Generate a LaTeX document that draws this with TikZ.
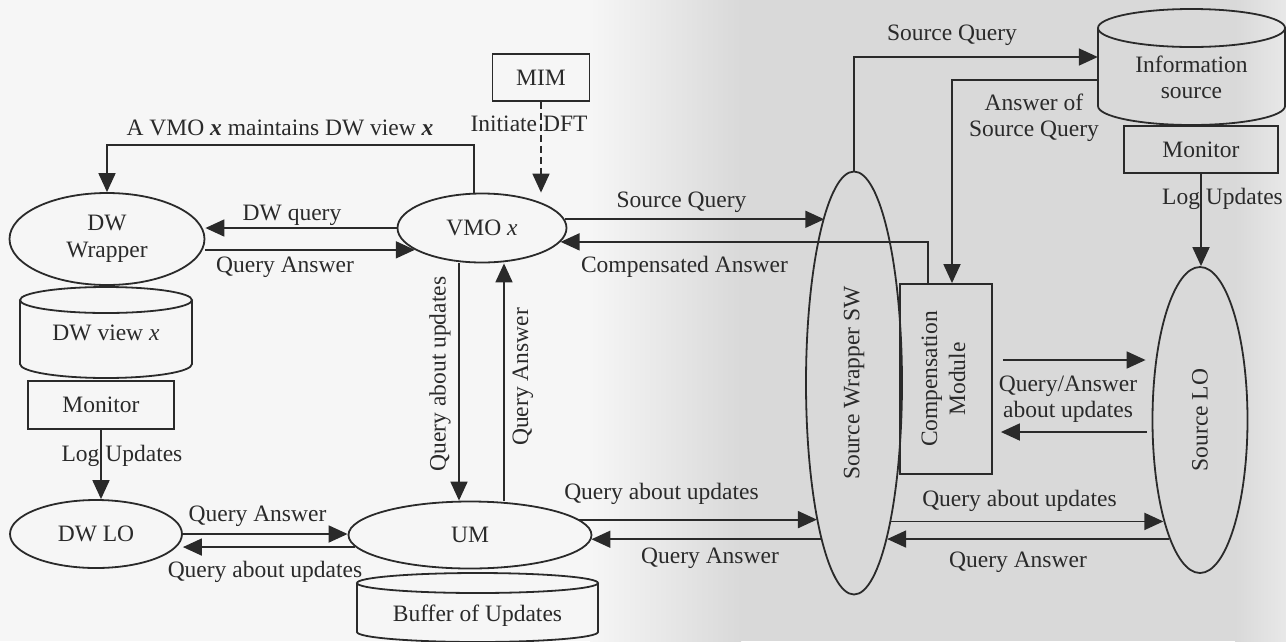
\documentclass[tikz,border=0pt]{standalone}
\usepackage{graphicx}
\usepackage{fontspec}
\setmainfont{Liberation Serif}
\usetikzlibrary{arrows.meta,shapes.geometric,calc}
\definecolor{ink}{HTML}{2A2A2A}
\definecolor{paperA}{HTML}{F6F6F6}
\definecolor{paperB}{HTML}{D9D9D9}
\definecolor{paperC}{HTML}{E8E8E8}

\begin{document}
\begin{tikzpicture}[x=1pt,y=-1pt,
  every node/.style={font=\fontsize{23.5}{26}\selectfont, text=ink},
  edgeline/.style={draw=ink, line width=1.8pt},
  arr/.style={edgeline, -{Triangle[length=19pt,width=17pt]}},
  oval/.style={ellipse, edgeline, inner sep=0pt, align=center},
  rectbox/.style={rectangle, edgeline, inner sep=0pt, align=center},
  lbl/.style={anchor=base, inner sep=0pt},
  txt/.style={inner sep=0pt, align=center},
]
% paper
\fill[paperA] (0,0) rectangle (1286,641);
\shade[left color=paperA, right color=paperB] (590,0) rectangle (741,641);
\fill[paperB] (740,0) rectangle (1236,641);
\shade[left color=paperB, right color=paperC] (1235,0) rectangle (1286,641);
\useasboundingbox (0,0) rectangle (1286,641);

% ---------- cylinders (drawn outlines) ----------
% information source
\draw[edgeline] (1191.5,28) ellipse [x radius=93.5, y radius=19];
\draw[edgeline] (1098,28) -- (1098,106) arc[start angle=180, end angle=0, x radius=93.5, y radius=19] -- (1285,28);
% DW view
\draw[edgeline] (106,300) ellipse [x radius=86, y radius=13];
\draw[edgeline] (20,300) -- (20,364) arc[start angle=180, end angle=0, x radius=86, y radius=14] -- (192,300);
% buffer of updates
\draw[edgeline] (477.5,583) ellipse [x radius=120.5, y radius=10];
\draw[edgeline] (357,583) -- (357,632) arc[start angle=180, end angle=0, x radius=120.5, y radius=10] -- (598,583);

% ---------- nodes ----------
\node[oval, minimum width=195pt, minimum height=92pt] (dww) at (107,239) {DW\\[1pt]Wrapper};
\node[txt] (dwview) at (106,333) {DW view \textit{x}};
\node[rectbox, minimum width=146pt, minimum height=48pt] (monL) at (101,405) {Monitor};
\node[oval, minimum width=172pt, minimum height=68pt] (dwlo) at (96,534) {DW LO};

\node[rectbox, minimum width=97pt, minimum height=47pt] (mim) at (541,77.5) {MIM};
\node[oval, minimum width=169pt, minimum height=69pt] (vmo) at (482,228) {VMO \textit{x}};
\node[oval, minimum width=243pt, minimum height=67pt] (um) at (470,535) {UM};
\node[txt, minimum width=241pt] (buffer) at (477.5,616) {Buffer of Updates};

\node[oval, minimum width=96pt, minimum height=423pt] (sw) at (854,383) {\rotatebox{90}{Source Wrapper SW}};
\node[rectbox, minimum width=92pt, minimum height=190pt] (comp) at (946,379)
  {\rotatebox{90}{\begin{tabular}{@{}c@{}}Compensation\\[2pt]Module\end{tabular}}};

\node[txt, minimum width=187pt] (info) at (1191.5,77) {Information\\source};
\node[rectbox, minimum width=154pt, minimum height=47pt] (monR) at (1201,149.5) {Monitor};
\node[oval, minimum width=95pt, minimum height=306pt] (slo) at (1200,420) {\rotatebox{90}{Source LO}};

% ---------- connectors ----------
% VMO maintains the DW view through the DW wrapper
\coordinate (ctop) at (300,145);
\draw[arr] ([xshift=-8pt]vmo.north) |- (ctop) -| (dww.north);
\node[lbl] (lblMaint) at (280,135) {A VMO \textbf{\textit{x}} maintains DW view \textbf{\textit{x}}};

\draw[arr] (vmo.west) -- (vmo.west -| dww.east);
\node[lbl] (lblDWq) at (292,220) {DW query};
\draw[arr] (vmo.198 -| dww.east) -- (vmo.198);
\node[lbl] (lblQA1) at (285,272) {Query Answer};

% MIM triggers the VMO
\draw[arr, dash pattern=on 7pt off 4pt] (mim.south) -- (mim.south |- vmo.north);
\node[lbl] (lblInit) at (529,131) {Initiate DFT};

% VMO and source wrapper
\draw[arr] (vmo.6) -- (vmo.6 -| sw.100);
\node[lbl] (lblSQ1) at (681.5,207) {Source Query};
\draw[arr] ([xshift=-18pt]comp.north) |- (vmo.350);
\node[lbl] (lblComp) at (684.5,272) {Compensated Answer};

% source wrapper and information source
\draw[arr] (sw.north) |- ([yshift=20pt]info.west);
\node[lbl] (lblSQ2) at (952,40) {Source Query};
\draw[arr] ([yshift=-3pt]info.west) -| ([xshift=6pt]comp.north);
\node[txt] (lblAns) at (1034,118) {Answer of\\Source Query};

% monitor of the source
\draw[arr] (monR.south) -- (monR.south |- slo.north);
\node[lbl] (lblLogR) at (1222.5,204) {Log Updates};

% compensation module and source LO
\coordinate (caU) at ([yshift=19pt]comp.east);
\coordinate (caD) at ([yshift=-53pt]comp.east);
\draw[arr, shorten <=10pt, shorten >=6pt] (caU) -- (caU -| slo.west);
\draw[arr, shorten <=5pt, shorten >=8pt] (caD -| slo.west) -- (caD);
\node[txt] (lblQAU) at (1068,399) {Query/Answer\\about updates};

% source wrapper and source LO
\draw[arr] (sw.285) -- (sw.285 -| slo.250);
\draw[arr] (sw.282 -| slo.255) -- (sw.282);
\node[lbl] (lblQU3) at (1019.5,506) {Query about updates};
\node[lbl] (lblQA3) at (1018,567) {Query Answer};

% UM and source wrapper
\draw[arr] (um.8) -- (um.8 -| sw.255);
\draw[arr] (um.358 -| sw.258) -- (um.358);
\node[lbl] (lblQU2) at (661.5,499) {Query about updates};
\node[lbl] (lblQA2) at (710,563) {Query Answer};

% DW LO and UM
\draw[arr] (dwlo.east) -- (dwlo.east -| um.west);
\draw[arr] (um.186) -- (um.186 -| dwlo.east);
\node[lbl] (lblQA4) at (257.5,521) {Query Answer};
\node[lbl] (lblQU4) at (265,577) {Query about updates};

% DW monitor
\draw[arr] (monL.south) -- (monL.south |- dwlo.north);
\node[lbl] (lblLogL) at (122,461) {Log Updates};

% VMO and UM
\coordinate (vq) at ([xshift=-23pt]vmo.south);
\coordinate (va) at ([xshift=22pt]vmo.south);
\draw[arr] (vq) -- (vq |- um.north);
\draw[arr] (va |- um.north) -- (va);
\node[txt, rotate=90] (lblQUv) at (440,374) {Query about updates};
\node[txt, rotate=90] (lblQAv) at (523,377) {Query Answer};
\end{tikzpicture}
\end{document}
